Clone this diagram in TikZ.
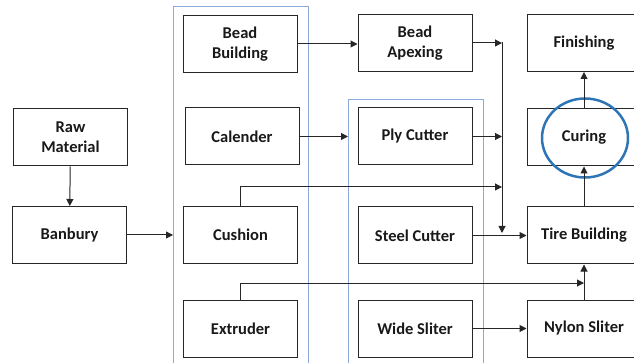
\documentclass[tikz,border=0pt]{standalone}
\usepackage{fontspec}
\setmainfont{Carlito}
\usetikzlibrary{arrows.meta,shapes.geometric}
\definecolor{grpblue}{HTML}{8EA9DB}
\definecolor{ringblue}{HTML}{2E75B6}
\tikzset{
  x=1pt,y=-1pt,
  proc/.style={draw=black!85,line width=1pt,minimum width=114,minimum height=57,inner sep=0pt,
    align=center,font=\fontsize{16.5}{20}\selectfont\bfseries,text=black!90},
  grp/.style={draw=grpblue,line width=0.9pt,inner sep=0pt,anchor=north west},
  flow/.style={draw=black!85,line width=1pt,-{Triangle[length=7pt,width=7pt]}},
  plain/.style={draw=black!85,line width=1pt},
  ring/.style={draw=ringblue,line width=2.5pt,ellipse,inner sep=0pt,minimum width=86,minimum height=79}
}
\begin{document}
\begin{tikzpicture}
\useasboundingbox (0,0) rectangle (634,363);
\clip (0,0) rectangle (634,363);
% groups
\node[grp,minimum width=135,minimum height=370] (g1) at (173,6) {};
\node[grp,minimum width=135,minimum height=270] (g2) at (348,99) {};
% boxes
\node[proc] (raw) at (70.5,137.5) {Raw\\Material};
\node[proc] (banbury) at (69.5,235) {Banbury};
\node[proc] (beadb) at (240,44) {Bead\\Building};
\node[proc] (calender) at (242,136.5) {Calender};
\node[proc] (cushion) at (240.5,235) {Cushion};
\node[proc] (extruder) at (240.5,328.5) {Extruder};
\node[proc] (apex) at (415,43) {Bead\\Apexing};
\node[proc] (ply) at (415,136.5) {Ply Cutter};
\node[proc] (steel) at (415,235.5) {Steel Cutter};
\node[proc] (wide) at (415,328.5) {Wide Sliter};
\node[proc] (finishing) at (584,43) {Finishing};
\node[proc] (curing) at (584,137.5) {Curing};
\node[proc] (tire) at (584,235.5) {Tire Building};
\node[proc] (nylon) at (584,328.5) {Nylon Sliter};
\node[ring] (ringc) at (585,138) {};
% junction coordinates
\coordinate (j1) at (502,42);
\coordinate (jc) at (502,187);
\coordinate (j2) at (502,233);
\coordinate (je) at (584,283);
% connectors
\draw[flow] (raw) -- (banbury);
\draw[flow] (banbury.east) -- (banbury.east -| g1.west);
\draw[flow] (beadb.east) -- (beadb.east -| apex.west);
\draw[flow] (calender.east) -- (calender.east -| g2.west);
\draw[flow] (apex.east) -- (apex.east -| j1);
\draw[flow] (ply.east) -- (ply.east -| j1);
\draw[flow] (cushion.north) |- (jc);
\draw[plain] (j1) -- (jc);
\draw[flow] (jc) -- (j2);
\draw[flow] (steel.east) -- (tire.west);
\draw[flow] (extruder.north) |- (je);
\draw[flow] (wide.east) -- (nylon.west);
\draw[flow] (nylon.north) -- (tire.south);
\draw[flow] (tire.north) -- (curing.south);
\draw[flow] (curing.north) -- (finishing.south);
\end{tikzpicture}
\end{document}
